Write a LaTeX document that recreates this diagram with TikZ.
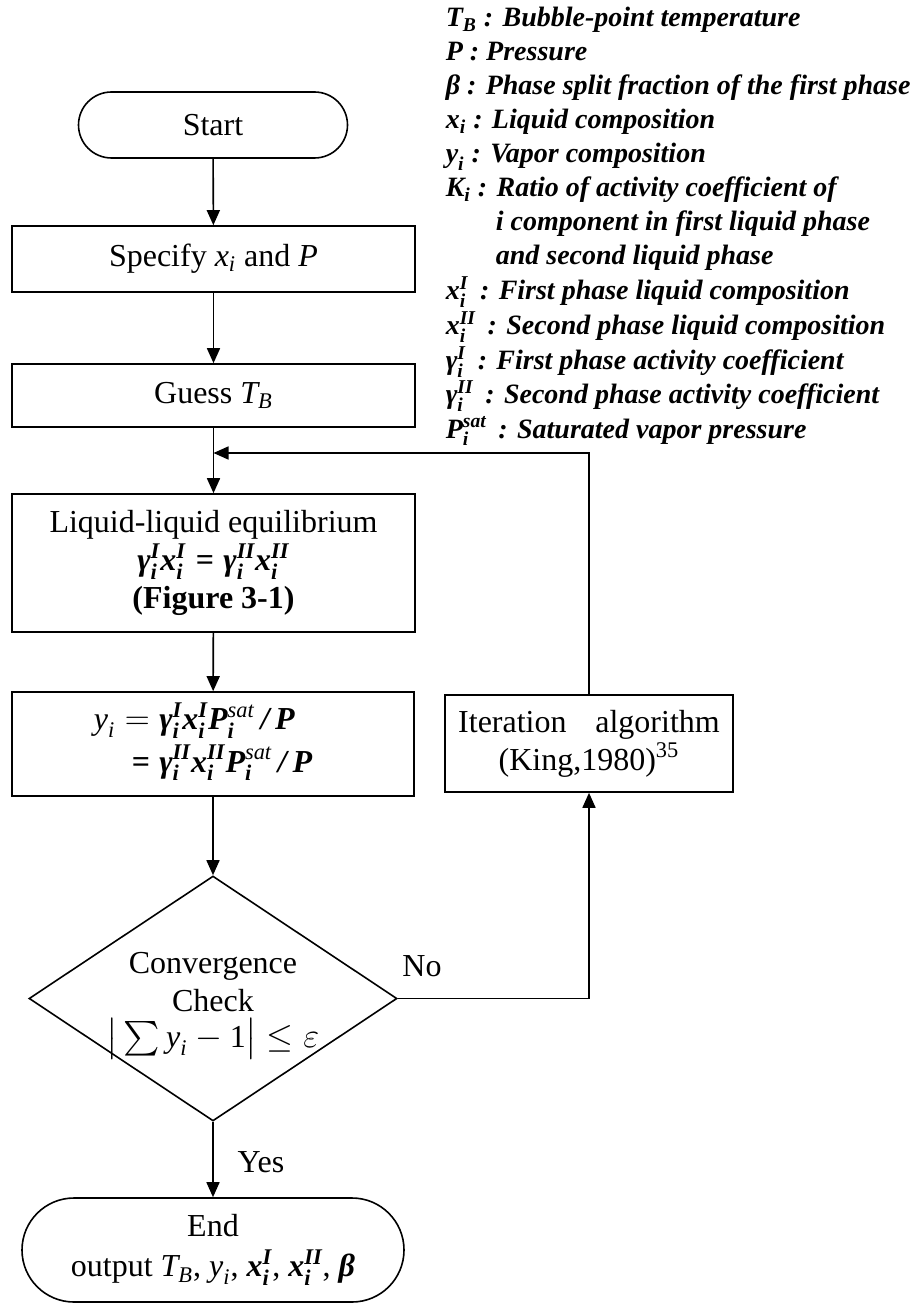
\documentclass[tikz,border=0pt]{standalone}
\usepackage{amsmath}
\usepackage{fontspec}
\setmainfont{Liberation Serif}
\usetikzlibrary{shapes.geometric,arrows.meta}
% italic and bold-italic letters taken from the text font inside formulas
\newcommand\ti[1]{\text{\normalfont\itshape #1}}
\newcommand\tb[1]{\text{\normalfont\bfseries\itshape #1}}
\begin{document}
\begin{tikzpicture}[x=0.5pt,y=-0.5pt,line width=0.8pt,
  base/.style={font=\fontsize{16}{19}\selectfont},
  box/.style={base,draw,rectangle,inner sep=0pt},
  term/.style={base,draw,rectangle,inner sep=0pt},
  arr/.style={-{Triangle[length=7.5pt,width=6.5pt]}},
  lg/.style={anchor=base west,inner sep=0pt,font=\fontsize{14}{17}\selectfont\bfseries\itshape}]
\useasboundingbox (0,0) rectangle (921,1304);

% flow chart
\node[term,minimum width=134.5pt,minimum height=33pt,rounded corners=16.5pt] (start) at (213,125) {Start};
\node[box,minimum width=201.5pt,minimum height=33pt] (spec) at (213.5,259) {Specify $\ti{x}_{\ti{i}}$ and $\ti{P}$};
\node[box,minimum width=201.5pt,minimum height=31.5pt] (guess) at (213.5,395.5) {Guess $\ti{T}_{\ti{B}}$};
\coordinate (merge) at (213.5,453);
\node[box,minimum width=201.5pt,minimum height=69pt,align=center] (lle) at (213.5,563)
  {Liquid-liquid equilibrium\\
   $\tb{γ}_{\tb{i}}^{\tb{I}}\tb{x}_{\tb{i}}^{\tb{I}} \mathrel{\tb{=}} \tb{γ}_{\tb{i}}^{\tb{II}}\tb{x}_{\tb{i}}^{\tb{II}}$\\
   \textbf{(Figure 3-1)}};
\node[box,minimum width=201pt,minimum height=52pt] (ybox) at (213,744) {};
\node[base,inner sep=0pt] (ytext) at (203,743)
  {\begin{tabular}{@{}r@{\hspace{0.3em}}l@{}}
   $\ti{y}_{\ti{i}} =$ & $\tb{γ}_{\tb{i}}^{\tb{I}}\tb{x}_{\tb{i}}^{\tb{I}}\tb{P}_{\tb{i}}^{\ti{sat}}\,\tb{/}\,\tb{P}$\\[2pt]
   $\tb{=}$ & $\tb{γ}_{\tb{i}}^{\tb{II}}\tb{x}_{\tb{i}}^{\tb{II}}\tb{P}_{\tb{i}}^{\ti{sat}}\,\tb{/}\,\tb{P}$
   \end{tabular}};
\node[box,minimum width=144pt,minimum height=48.5pt,align=center] (iter) at (589,743.5)
  {Iteration\hspace{0.9em}algorithm\\(King,1980)\textsuperscript{35}};
\node[diamond,draw,minimum width=184pt,minimum height=122.5pt,inner sep=0pt] (chk) at (213,998.5) {};
\node[base,align=center,inner sep=0pt] (chktext) at (213,1006)
  {Convergence\\Check\\[-1pt]$\bigl|\,\textstyle\sum \ti{y}_{\ti{i}} - \text{1}\bigr| \le \varepsilon$};
\node[term,minimum width=191pt,minimum height=52pt,rounded corners=26pt,align=center] (end) at (213,1250)
  {End\\[1pt]output $\ti{T}_{\ti{B}}$, $\ti{y}_{\ti{i}}$, $\tb{x}_{\tb{i}}^{\tb{I}}$, $\tb{x}_{\tb{i}}^{\tb{II}}$, $\tb{β}$};
\node[base] (no) at (422,966) {No};
\node[base] (yes) at (261,1162) {Yes};

% connectors
\draw[arr] (start) -- (spec);
\draw[arr] (spec) -- (guess);
\draw[arr] (guess) -- (lle);
\draw[arr] (lle) -- (ybox);
\draw[arr] (ybox) -- (chk);
\draw[arr] (chk) -- (end);
\draw[arr] (chk.east) -| (iter.south);
\draw[arr] (iter.north) |- (merge);

% symbol list
\node[lg] (l1) at (445,27) {$\tb{T}_{\tb{B}}$ : Bubble-point temperature};
\node[lg] (l2) at (445,61) {P : Pressure};
\node[lg] (l3) at (445,95) {β : Phase split fraction of the first phase};
\node[lg] (l4) at (445,129) {$\tb{x}_{\tb{i}}$ : Liquid composition};
\node[lg] (l5) at (445,163) {$\tb{y}_{\tb{i}}$ : Vapor composition};
\node[lg] (l6) at (445,197) {$\tb{K}_{\tb{i}}$ : Ratio of activity coefficient of};
\node[lg] (l7) at (495,231) {i component in first liquid phase};
\node[lg] (l8) at (495,265) {and second liquid phase};
\node[lg] (l9) at (445,300) {$\tb{x}_{\tb{i}}^{\tb{I}}$\, : First phase liquid composition};
\node[lg] (l10) at (445,335) {$\tb{x}_{\tb{i}}^{\tb{II}}$\, : Second phase liquid composition};
\node[lg] (l11) at (445,370) {$\tb{γ}_{\tb{i}}^{\tb{I}}$\, : First phase activity coefficient};
\node[lg] (l12) at (445,404) {$\tb{γ}_{\tb{i}}^{\tb{II}}$\, : Second phase activity coefficient};
\node[lg] (l13) at (445,438) {$\tb{P}_{\tb{i}}^{\tb{sat}}$\, : Saturated vapor pressure};
\end{tikzpicture}
\end{document}
